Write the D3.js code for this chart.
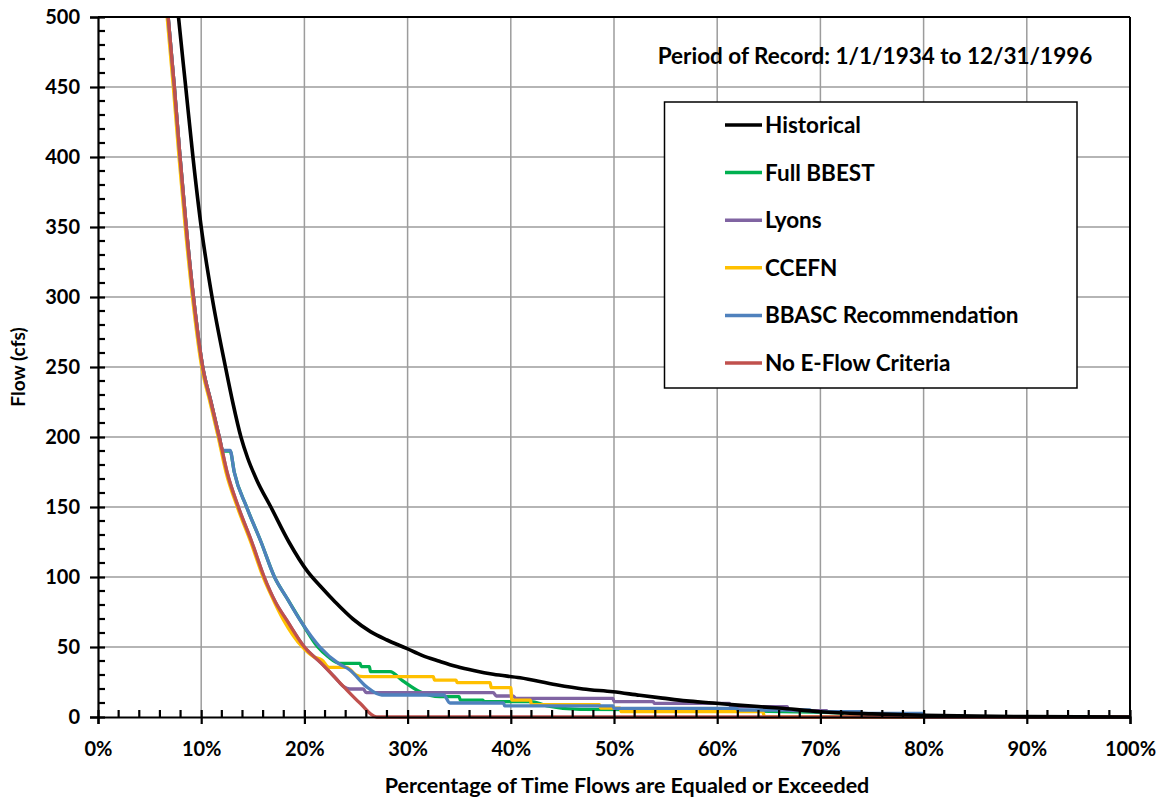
<!DOCTYPE html>
<html>
<head>
<meta charset="utf-8">
<script src="https://cdn.jsdelivr.net/npm/d3@7"></script>
<style>
  html, body { margin: 0; padding: 0; background: #fff; }
  svg { display: block; font-family: Lato, "Open Sans", sans-serif; font-weight: bold; }
</style>
</head>
<body>
<svg id="chart" width="1168" height="800"></svg>
<script>
// Flow duration curves: [percent of time exceeded, flow in cfs]
const historical = [
  [7.55, 520], [7.8, 500], [8.5, 450], [9.2, 400], [10.0, 350], [11.05, 300],
  [12.35, 250], [13.05, 225], [13.85, 200], [14.5, 185], [15.4, 169], [16.75, 150],
  [18.5, 125], [20.3, 104], [21.6, 93], [23.0, 82], [24.7, 70], [26.4, 61],
  [28.0, 55], [29.9, 49], [31.4, 44], [33.0, 40], [34.75, 36], [36.5, 33],
  [38.3, 30.5], [40.9, 28], [44.4, 23], [47.0, 20], [49.9, 18], [52.5, 15.5],
  [54.7, 13.5], [57.0, 11.5], [59.6, 10], [62.0, 8.5], [66.0, 6.4], [70.0, 3.8],
  [75.0, 2.2], [80.0, 1.2], [85.0, 0.6], [90.0, 0.3], [100.0, 0]
];
const fullBBEST = [
  [6.55, 520], [6.8, 500], [7.4, 450], [7.95, 400], [8.55, 350], [9.25, 300],
  [10.15, 250], [10.95, 225], [11.75, 200], [12.1, 190], [12.3, 190], [12.8, 190],
  [13.2, 175], [14.4, 150], [15.8, 125], [17.1, 100], [18.3, 85], [19.7, 68],
  [21.3, 50], [22.3, 43], [23.4, 38.3], [25.4, 38.3], [25.5, 36], [26.3, 36],
  [26.4, 32.4], [28.3, 32.4], [29.5, 26], [31.2, 18], [33.1, 14.5], [35.0, 14.5],
  [35.1, 12.1], [37.3, 12.1], [37.4, 11], [41.9, 11], [43.5, 8], [46.7, 5.5],
  [60.0, 5], [65.0, 4], [72.0, 3], [72.2, 0], [100.0, 0]
];
const lyons = [
  [6.55, 520], [6.8, 500], [7.4, 450], [7.95, 400], [8.55, 350], [9.25, 300],
  [10.15, 250], [10.95, 225], [11.75, 200], [12.5, 175], [13.6, 150], [14.9, 125],
  [16.1, 100], [17.2, 82], [18.3, 69], [20.0, 50], [21.7, 38], [23.0, 28],
  [23.8, 21.7], [24.4, 20], [25.7, 20], [26.0, 17.4], [38.3, 17.4], [38.6, 15],
  [40.2, 15], [40.5, 13.3], [49.9, 13.3], [50.0, 11], [53.8, 11], [53.9, 9.8],
  [61.2, 9.8], [61.3, 7.4], [66.8, 7.4], [66.9, 5], [67.4, 4.5], [70.6, 4.5],
  [70.7, 3.8], [73.8, 3.8], [74.0, 0], [100.0, 0]
];
const ccefn = [
  [6.45, 520], [6.7, 500], [7.3, 450], [7.85, 400], [8.45, 350], [9.15, 300],
  [10.05, 250], [10.85, 225], [11.65, 200], [12.4, 175], [13.5, 150], [14.8, 125],
  [16.0, 100], [17.1, 82], [18.0, 69], [19.8, 50], [20.9, 43], [21.7, 40.7],
  [22.4, 35.5], [24.1, 35.5], [25.0, 30], [25.7, 28.8], [32.5, 28.8], [32.6, 26.4],
  [34.7, 26.4], [34.8, 24.5], [38.0, 24.5], [38.1, 21], [40.0, 21], [40.1, 12],
  [41.9, 12], [42.0, 8.8], [48.6, 8.8], [48.7, 6.4], [50.6, 6.4], [50.7, 3.8],
  [64.4, 3.8], [64.6, 0], [100.0, 0]
];
const bbasc = [
  [6.55, 520], [6.8, 500], [7.4, 450], [7.95, 400], [8.55, 350], [9.25, 300],
  [10.15, 250], [10.95, 225], [11.75, 200], [12.1, 190.5], [12.3, 190.5], [12.8, 190.5],
  [13.2, 175], [14.4, 150], [15.8, 125], [17.1, 100], [18.3, 85], [19.6, 69],
  [21.5, 50], [23.3, 38.3], [24.4, 33.6], [26.0, 21.7], [27.5, 15.7], [33.5, 15.7],
  [34.1, 10], [39.3, 10], [39.4, 7.9], [49.9, 7.9], [50.0, 6.2], [61.9, 6.2],
  [62.0, 5], [69.0, 5], [69.1, 3.8], [73.8, 3.8], [73.9, 2.6], [80.0, 2.6],
  [80.1, 0], [100.0, 0]
];
const noEFlow = [
  [6.55, 520], [6.8, 500], [7.4, 450], [7.95, 400], [8.55, 350], [9.25, 300],
  [10.15, 250], [10.95, 225], [11.75, 200], [12.5, 175], [13.6, 150], [14.9, 125],
  [16.1, 100], [17.2, 82], [18.3, 69], [20.0, 50], [21.7, 38], [23.8, 21.7],
  [25.4, 9.8], [27.0, 0], [100.0, 0]
];

const seriesNames = ["Historical", "Full BBEST", "Lyons", "CCEFN", "BBASC Recommendation", "No E-Flow Criteria"];
const seriesColors = ["#000000", "#00b050", "#8064a2", "#ffc000", "#4f81bd", "#c0504d"];
const seriesData = [historical, fullBBEST, lyons, ccefn, bbasc, noEFlow];

const xTickValues = [0, 10, 20, 30, 40, 50, 60, 70, 80, 90, 100];
const yTickValues = [0, 50, 100, 150, 200, 250, 300, 350, 400, 450, 500];
const xMinorValues = d3.range(0, 100.1, 2);
const yMinorValues = d3.range(0, 500.1, 10);

const titleText = "Period of Record: 1/1/1934 to 12/31/1996";
const xTitle = "Percentage of Time Flows are Equaled or Exceeded";
const yTitle = "Flow (cfs)";

const svg = d3.select("#chart");
const plotLeft = 98, plotRight = 1130, plotTop = 17, plotBottom = 717;

const x = d3.scaleLinear().domain([0, 100]).range([plotLeft, plotRight]);
const y = d3.scaleLinear().domain([0, 500]).range([plotBottom, plotTop]);

// gridlines
const grid = svg.append("g").attr("stroke", "#9c9c9c").attr("stroke-width", 1.5);
grid.selectAll("line.v").data(xTickValues.slice(1, -1)).join("line").attr("class", "v")
  .attr("x1", d => x(d)).attr("x2", d => x(d)).attr("y1", plotTop).attr("y2", plotBottom);
grid.selectAll("line.h").data(yTickValues.slice(1, -1)).join("line").attr("class", "h")
  .attr("x1", plotLeft).attr("x2", plotRight).attr("y1", d => y(d)).attr("y2", d => y(d));

// series lines
svg.append("clipPath").attr("id", "plotClip").append("rect")
  .attr("x", plotLeft).attr("y", plotTop).attr("width", plotRight - plotLeft).attr("height", plotBottom - plotTop + 3);

const line = d3.line().x(d => x(d[0])).y(d => y(d[1])).curve(d3.curveMonotoneX);
const lines = svg.append("g").attr("clip-path", "url(#plotClip)");
// lower curves first, Historical last
const order = [1, 2, 3, 4, 5, 0];
order.forEach(i => {
  lines.append("path")
    .datum(seriesData[i])
    .attr("fill", "none")
    .attr("stroke", seriesColors[i])
    .attr("stroke-width", i === 0 ? 3.6 : 3.3)
    .attr("stroke-linejoin", "round")
    .attr("d", line);
});

// frame (top and right edges)
svg.append("line").attr("x1", plotLeft).attr("x2", plotRight).attr("y1", plotTop).attr("y2", plotTop)
  .attr("stroke", "#000").attr("stroke-width", 2);
svg.append("line").attr("x1", plotRight).attr("x2", plotRight).attr("y1", plotTop).attr("y2", plotBottom)
  .attr("stroke", "#000").attr("stroke-width", 2);

// axes
const xAxis = d3.axisBottom(x).tickValues(xTickValues).tickFormat(d => d + "%").tickSize(7).tickPadding(18);
const yAxis = d3.axisLeft(y).tickValues(yTickValues).tickFormat(d3.format("d")).tickSize(8).tickPadding(10);

const gx = svg.append("g").attr("transform", `translate(0,${plotBottom})`).call(xAxis);
const gy = svg.append("g").attr("transform", `translate(${plotLeft},0)`).call(yAxis);
[gx, gy].forEach(g => {
  g.select(".domain").attr("stroke", "#000").attr("stroke-width", 2.2);
  g.selectAll(".tick line").attr("stroke", "#000").attr("stroke-width", 2.2);
  g.selectAll(".tick text").attr("fill", "#000").attr("font-size", 20)
    .attr("font-family", "Lato, sans-serif").attr("font-weight", "bold");
});
// major ticks cross the axis line
gx.selectAll(".tick line").attr("y1", -7).attr("y2", 7);
gy.selectAll(".tick line").attr("x1", 7).attr("x2", -8);

// minor ticks, pointing into the plot
svg.append("g").selectAll("line").data(xMinorValues.filter(d => d % 10 !== 0)).join("line")
  .attr("x1", d => x(d)).attr("x2", d => x(d)).attr("y1", plotBottom).attr("y2", plotBottom - 7)
  .attr("stroke", "#000").attr("stroke-width", 2.2);
svg.append("g").selectAll("line").data(yMinorValues.filter(d => d % 50 !== 0)).join("line")
  .attr("x1", plotLeft).attr("x2", plotLeft + 7).attr("y1", d => y(d)).attr("y2", d => y(d))
  .attr("stroke", "#000").attr("stroke-width", 2.2);

// axis titles
svg.append("text").attr("x", 627).attr("y", 793)
  .attr("text-anchor", "middle").attr("font-size", 21.5).text(xTitle);
svg.append("text").attr("transform", `translate(25,${(plotTop + plotBottom) / 2}) rotate(-90)`)
  .attr("text-anchor", "middle").attr("font-size", 19).text(yTitle);

// period of record note
svg.append("text").attr("x", 875).attr("y", 64).attr("text-anchor", "middle")
  .attr("font-size", 22.5).text(titleText);

// legend
const legend = svg.append("g");
legend.append("rect").attr("x", 664.5).attr("y", 102).attr("width", 412.5).attr("height", 286)
  .attr("fill", "#fff").attr("stroke", "#000").attr("stroke-width", 1.5);
seriesNames.forEach((name, i) => {
  const cy = 125 + i * 47.6;
  legend.append("line").attr("x1", 725).attr("x2", 762).attr("y1", cy).attr("y2", cy)
    .attr("stroke", seriesColors[i]).attr("stroke-width", 3.5);
  legend.append("text").attr("x", 765).attr("y", cy + 8).attr("font-size", 22.5).text(name);
});
</script>
</body>
</html>
